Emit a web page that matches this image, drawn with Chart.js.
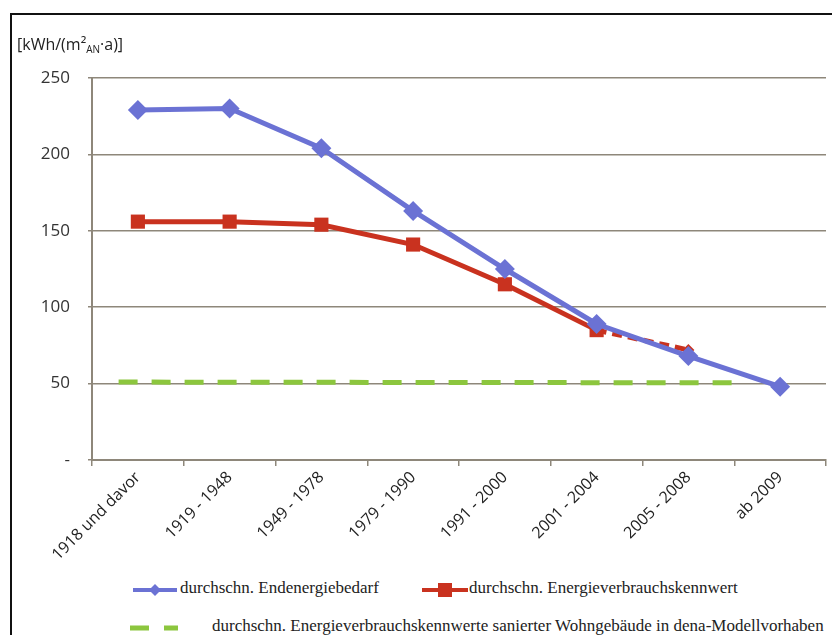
<!DOCTYPE html>
<html><head><meta charset="utf-8">
<script src="https://cdn.jsdelivr.net/npm/chart.js@4"></script>
<style>
html,body{margin:0;padding:0;background:#fff;width:832px;height:635px;overflow:hidden;position:relative;}
#frame{position:absolute;left:10px;top:13px;width:840px;height:640px;border-top:2px solid #111;border-left:2px solid #111;}
#wrap{position:absolute;left:0;top:0;width:832px;height:560px;overflow:hidden;}
#unit{position:absolute;left:17px;top:33px;font-family:"Open Sans",sans-serif;font-size:16px;color:#222;}
#unit sub{font-size:10px;vertical-align:-3px;}
.leg{position:absolute;font-family:"Liberation Serif",serif;font-size:17px;color:#222;white-space:nowrap;}
.sym{position:absolute;}
</style></head>
<body>
<div id="frame"></div>
<div id="wrap"><canvas id="c" width="836" height="560"></canvas></div>
<div id="unit">[kWh/(m²<sub>AN</sub>·a)]</div>
<svg class="sym" style="left:130px;top:580px" width="50" height="20"><line x1="3" y1="10" x2="47" y2="10" stroke="#6b72d4" stroke-width="4"/><polygon points="25,4 31,10 25,16 19,10" fill="#6b72d4"/></svg>
<div class="leg" style="left:180px;top:578px">durchschn. Endenergiebedarf</div>
<svg class="sym" style="left:420px;top:580px" width="50" height="20"><line x1="2" y1="10" x2="48" y2="10" stroke="#c9321f" stroke-width="4"/><rect x="18" y="3" width="14" height="14" fill="#c9321f"/></svg>
<div class="leg" style="left:469px;top:578px">durchschn. Energieverbrauchskennwert</div>
<svg class="sym" style="left:128px;top:618px" width="52" height="20"><line x1="2" y1="10" x2="50" y2="10" stroke="#8cc63e" stroke-width="5" stroke-dasharray="19,15"/></svg>
<div class="leg" style="left:212px;top:616px">durchschn. Energieverbrauchskennwerte sanierter Wohngebäude in dena-Modellvorhaben</div>
<script>
const categories = ["1918 und davor","1919 - 1948","1949 - 1978","1979 - 1990","1991 - 2000","2001 - 2004","2005 - 2008","ab 2009"];
const endenergiebedarf = [229, 230, 204, 163, 125, 89, 68, 48];
const verbrauchskennwert = [156, 156, 154, 141, 115, 85, 72, null];
const saniertX = [-0.21, 6.6];
const saniertY = [51, 50.5];
const yTicks = [0, 50, 100, 150, 200, 250];

const gridCol = '#8e877a';
const blue = '#6b72d4', red = '#c9321f', green = '#8cc63e';

new Chart(document.getElementById('c'), {
  type: 'line',
  data: {
    labels: categories,
    datasets: [
      {
        label: 'durchschn. Energieverbrauchskennwerte sanierter Wohngebäude in dena-Modellvorhaben',
        data: saniertX.map((x, i) => ({x: x, y: saniertY[i]})),
        xAxisID: 'x2',
        borderColor: green, borderWidth: 5, borderDash: [19, 14],
        pointRadius: 0, order: 3
      },
      {
        label: 'durchschn. Endenergiebedarf',
        data: endenergiebedarf,
        borderColor: blue, backgroundColor: blue, borderWidth: 5,
        pointStyle: 'rectRot', pointRadius: 10, pointBorderWidth: 0, order: 1
      },
      {
        label: 'durchschn. Energieverbrauchskennwert',
        data: verbrauchskennwert,
        borderColor: red, backgroundColor: red, borderWidth: 5,
        pointStyle: verbrauchskennwert.map((v, i) => i === 6 ? 'rectRot' : 'rect'),
        pointRadius: verbrauchskennwert.map((v, i) => i === 6 ? 6 : 10),
        pointBorderWidth: 0,
        segment: { borderDash: ctx => ctx.p1DataIndex === 6 ? [10, 6] : undefined },
        order: 2
      }
    ]
  },
  options: {
    responsive: false, animation: false,
    layout: { padding: { top: 78, right: 2, left: 0, bottom: 0 } },
    plugins: { legend: { display: false }, tooltip: { enabled: false } },
    scales: {
      x: {
        type: 'category', offset: true,
        grid: { display: true, offset: true, drawOnChartArea: false, tickLength: 6, color: gridCol, lineWidth: 1.5 },
        border: { display: true, color: gridCol, width: 2 },
        ticks: { maxRotation: 45, minRotation: 45, autoSkip: false, color: '#222', padding: 2,
                 font: { family: 'Open Sans', size: 16 } },
        afterFit: s => { s.height = 100; s.paddingRight = 0; s.paddingLeft = 0; }
      },
      x2: { type: 'linear', display: false, min: -0.5, max: 7.5 },
      y: {
        min: 0, max: 250,
        afterBuildTicks: s => { s.ticks = yTicks.map(v => ({value: v})); },
        grid: { color: gridCol, lineWidth: 1.5, tickLength: 4 },
        border: { display: true, color: gridCol, width: 2 },
        ticks: { color: '#333', padding: 18, font: { family: 'Open Sans', size: 17 },
                 callback: v => v === 0 ? '-' : String(v) },
        afterFit: s => { s.width = 92; }
      }
    }
  }
});
</script>
</body></html>
